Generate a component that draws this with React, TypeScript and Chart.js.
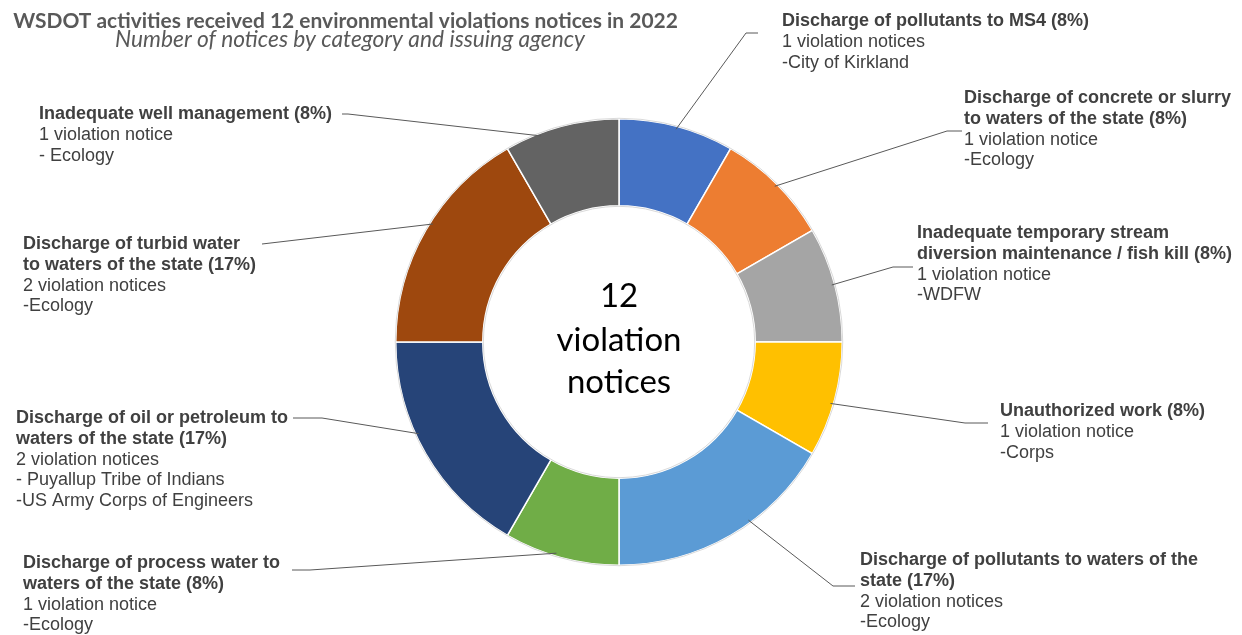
import React, { useEffect, useRef } from "react";
import { Chart, registerables } from "chart.js";

Chart.register(...registerables);

// ---------- data ----------
const chartTitle = "WSDOT activities received 12 environmental violations notices in 2022";
const chartSubtitle = "Number of notices by category and issuing agency";
const centerLines = ["12", "violation", "notices"];

const categories = [
  "Discharge of pollutants to MS4",
  "Discharge of concrete or slurry\nto waters of the state",
  "Inadequate temporary stream\ndiversion maintenance / fish kill",
  "Unauthorized work",
  "Discharge of pollutants to waters of the\nstate",
  "Discharge of process water to\nwaters of the state",
  "Discharge of oil or petroleum to\nwaters of the state",
  "Discharge of turbid water\nto waters of the state",
  "Inadequate well management",
];
const noticeCounts = [1, 1, 1, 1, 2, 1, 2, 2, 1];
const noticeWords = [
  "violation notices",
  "violation notice",
  "violation notice",
  "violation notice",
  "violation notices",
  "violation notice",
  "violation notices",
  "violation notices",
  "violation notice",
];
const agencies = [
  ["-City of Kirkland"],
  ["-Ecology"],
  ["-WDFW"],
  ["-Corps"],
  ["-Ecology"],
  ["-Ecology"],
  ["- Puyallup Tribe of Indians", "-US Army Corps of Engineers"],
  ["-Ecology"],
  ["- Ecology"],
];
const sliceColors = [
  "#4472C4",
  "#ED7D31",
  "#A5A5A5",
  "#FFC000",
  "#5B9BD5",
  "#70AD47",
  "#264478",
  "#9E480E",
  "#636363",
];

// ---------- label layout (text position, leader elbow, leader end, anchor fraction along arc) ----------
const labelLayout = [
  { x: 782, y: 21, ex: 746, ey: 33, hx: 758, frac: 0.5 },
  { x: 964, y: 98, ex: 947, ey: 131, hx: 962, frac: 0.5 },
  { x: 917, y: 233, ex: 893, ey: 267, hx: 913, frac: 0.5 },
  { x: 1000, y: 411, ex: 965, ey: 423, hx: 988, frac: 0.54 },
  { x: 860, y: 560, ex: 833, ey: 586, hx: 855, frac: 0.4 },
  { x: 23, y: 563, ex: 310, ey: 570, hx: 292, frac: 0.55 },
  { x: 16, y: 418, ex: 322, ey: 418, hx: 293, frac: 0.59 },
  { x: 23, y: 244, ex: 262, ey: 244, hx: 262, frac: 0.54 },
  { x: 39, y: 114, ex: 348, ey: 114, hx: 342, frac: 0.31 },
];

const LABEL_FONT = "'Liberation Sans', Arial, sans-serif";
const TITLE_FONT = "Lato, 'Open Sans', sans-serif";
const LINE_H = 20.8;

function fitSize(ctx: CanvasRenderingContext2D, text: string, prefix: string, family: string, target: number) {
  const base = 20;
  ctx.font = `${prefix} ${base}px ${family}`;
  const w = ctx.measureText(text).width || 1;
  return (base * target) / w;
}

const annotationsPlugin = {
  id: "annotations",
  afterDatasetsDraw(chart: any) {
    const ctx: CanvasRenderingContext2D = chart.ctx;
    const meta = chart.getDatasetMeta(0);
    const first = meta.data[0];
    if (!first) return;
    const p = first.getProps(["x", "y", "innerRadius", "outerRadius"], true);
    ctx.save();
    ctx.strokeStyle = "#d9d9d9";
    ctx.lineWidth = 1;
    ctx.beginPath();
    ctx.arc(p.x, p.y, p.outerRadius + 0.5, 0, Math.PI * 2);
    ctx.stroke();
    ctx.beginPath();
    ctx.arc(p.x, p.y, p.innerRadius - 0.5, 0, Math.PI * 2);
    ctx.stroke();
    ctx.restore();
  },
  afterDraw(chart: any) {
    const ctx: CanvasRenderingContext2D = chart.ctx;
    const meta = chart.getDatasetMeta(0);
    const total = noticeCounts.reduce((a, b) => a + b, 0);
    ctx.save();

    // Title & subtitle
    ctx.fillStyle = "#595959";
    ctx.textAlign = "center";
    ctx.textBaseline = "alphabetic";
    const tSize = fitSize(ctx, chartTitle, "bold", TITLE_FONT, 665);
    ctx.font = `bold ${tSize}px ${TITLE_FONT}`;
    ctx.fillText(chartTitle, 345.5, 28);
    const sSize = fitSize(ctx, chartSubtitle, "italic", TITLE_FONT, 470);
    ctx.font = `italic ${sSize}px ${TITLE_FONT}`;
    ctx.fillText(chartSubtitle, 350, 47);

    // Leader lines and labels
    meta.data.forEach((arc: any, i: number) => {
      const lay = labelLayout[i];
      const pr = arc.getProps(["x", "y", "startAngle", "endAngle", "outerRadius"], true);
      const a = pr.startAngle + lay.frac * (pr.endAngle - pr.startAngle);
      const r = pr.outerRadius - 3;
      const ax = pr.x + Math.cos(a) * r;
      const ay = pr.y + Math.sin(a) * r;
      ctx.strokeStyle = "#595959";
      ctx.lineWidth = 1;
      ctx.beginPath();
      ctx.moveTo(ax, ay);
      ctx.lineTo(lay.ex, lay.ey);
      ctx.lineTo(lay.hx, lay.ey);
      ctx.stroke();

      const pct = Math.round((noticeCounts[i] / total) * 100);
      const boldLines = categories[i].split("\n");
      boldLines[boldLines.length - 1] += ` (${pct}%)`;
      const regLines = [`${noticeCounts[i]} ${noticeWords[i]}`, ...agencies[i]];
      ctx.textAlign = "left";
      ctx.textBaseline = "middle";
      ctx.fillStyle = "#404040";
      let y = lay.y;
      ctx.font = `bold 18px ${LABEL_FONT}`;
      boldLines.forEach((t) => {
        ctx.fillText(t, lay.x, y);
        y += LINE_H;
      });
      ctx.font = `18px ${LABEL_FONT}`;
      regLines.forEach((t) => {
        ctx.fillText(t, lay.x, y);
        y += LINE_H;
      });
    });

    // Center text
    const first = meta.data[0];
    if (first) {
      const c = first.getProps(["x", "y"], true);
      const cSize = fitSize(ctx, centerLines[1], "normal", TITLE_FONT, 125);
      ctx.font = `normal ${cSize}px ${TITLE_FONT}`;
      ctx.fillStyle = "#000000";
      ctx.textAlign = "center";
      ctx.textBaseline = "alphabetic";
      const baselines = [c.y - 35, c.y + 9, c.y + 51];
      centerLines.forEach((t, k) => ctx.fillText(t, c.x, baselines[k]));
    }
    ctx.restore();
  },
};

export default function App() {
  const canvasRef = useRef<HTMLCanvasElement | null>(null);

  useEffect(() => {
    document.body.style.margin = "0";
    const canvas = canvasRef.current;
    if (!canvas) return;
    const chart = new Chart(canvas, {
      type: "doughnut",
      data: {
        labels: categories.map((c) => c.replace("\n", " ")),
        datasets: [
          {
            data: noticeCounts,
            backgroundColor: sliceColors,
            borderColor: "#ffffff",
            borderWidth: 1.5,
          },
        ],
      },
      options: {
        responsive: false,
        animation: false,
        devicePixelRatio: 1,
        cutout: "61%",
        layout: { padding: { top: 118, bottom: 69, left: 395, right: 399 } },
        plugins: {
          legend: { display: false },
          tooltip: { enabled: false },
          title: { display: false },
        },
      },
      plugins: [annotationsPlugin],
    });
    return () => chart.destroy();
  }, []);

  return (
    <div style={{ width: 1242, height: 635, background: "#ffffff" }}>
      <canvas ref={canvasRef} width={1242} height={635} style={{ display: "block" }} />
    </div>
  );
}
